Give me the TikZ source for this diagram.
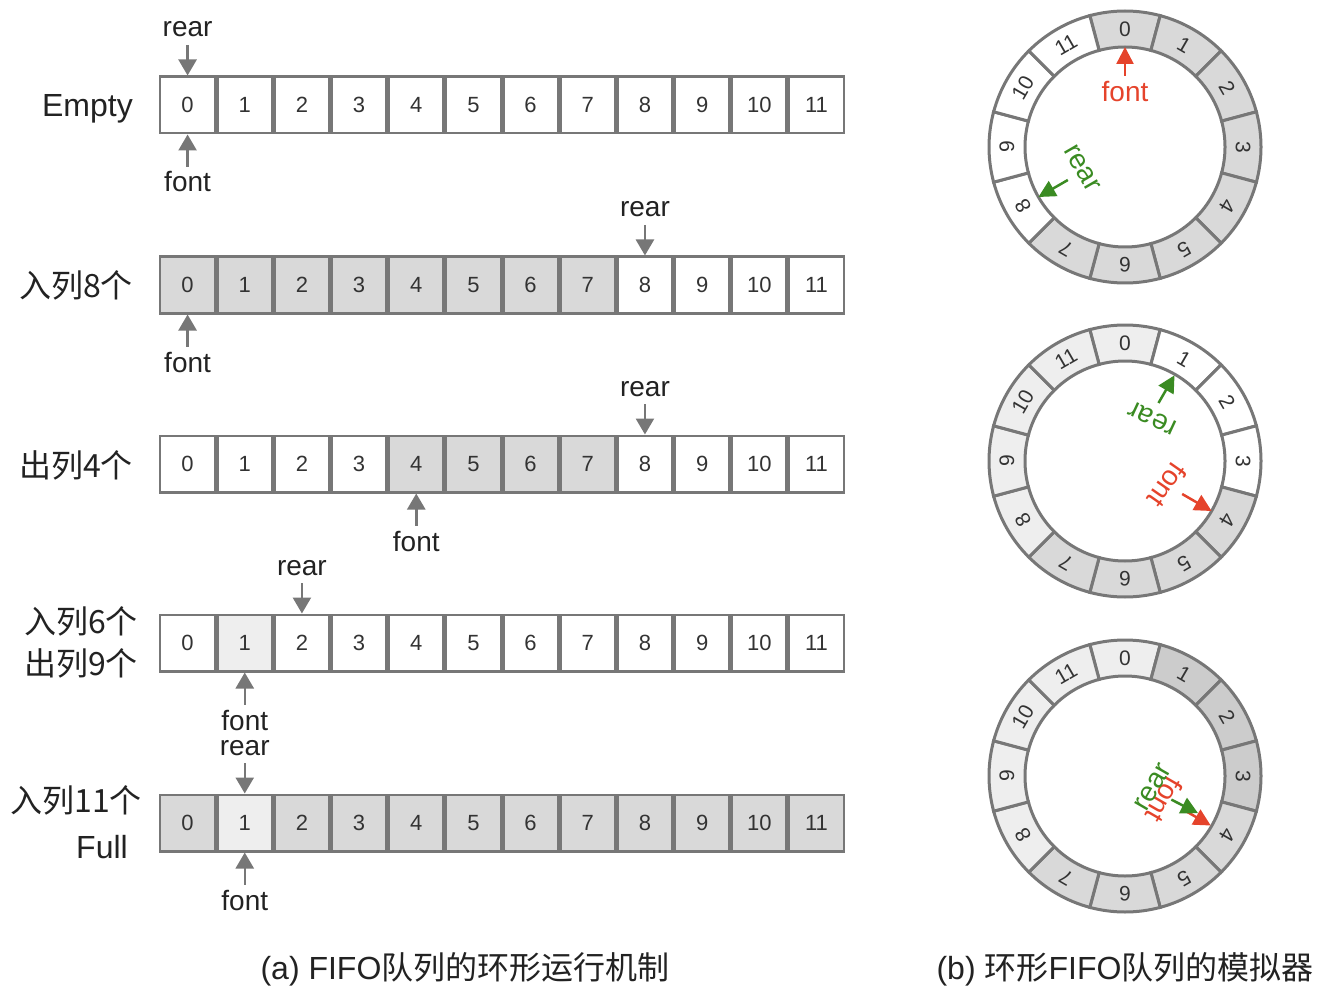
\documentclass[tikz,border=0pt]{standalone}
\usepackage{fontspec}
\setmainfont{Liberation Sans}
\newfontfamily\cjk{Noto Sans CJK SC}
\usetikzlibrary{arrows.meta,calc}
\definecolor{bd}{HTML}{777777}
\definecolor{g1}{HTML}{D9D9D9}
\definecolor{g2}{HTML}{EEEEEE}
\definecolor{g3}{HTML}{CCCCCC}
\definecolor{redc}{HTML}{E5432B}
\definecolor{greenc}{HTML}{3A8B22}
\definecolor{txt}{HTML}{333333}
\definecolor{lab}{HTML}{222222}
\tikzset{
  qcell/.style={draw=bd, line width=2.5pt, minimum width=54.67pt, minimum height=56.5pt,
    inner sep=0pt, text=txt, font=\fontsize{22}{26}\selectfont},
  rowlab/.style={inner sep=0pt, text=lab, font=\fontsize{32}{38}\selectfont},
  plab/.style={inner sep=0pt, text=lab, font=\fontsize{28}{32}\selectfont},
  ptr/.style={draw=bd, line width=2.5pt, -{Triangle[length=16pt,width=18pt]}},
  rnum/.style={inner sep=0pt, text=txt, font=\fontsize{21}{24}\selectfont},
  clab/.style={inner sep=0pt, font=\fontsize{28}{32}\selectfont},
  cptr/.style={line width=2.5pt, -{Triangle[length=17pt,width=17pt]}},
  seg/.style={draw=bd, line width=3pt},
  captext/.style={inner sep=0pt, text=lab, font=\fontsize{32}{38}\selectfont},
}
\newcommand\qrow[3]{%
  \foreach \fc [count=\i from 0] in {#3}{
    \node[qcell, fill=\fc] (#1c\i) at ({187.58+57.17*\i}, #2) {\i};
  }}
\newcommand\qptr[3]{%
  \node[plab, anchor=base] (#1R) at ($(#1c#2)+(0,-68)$) {rear};
  \draw[ptr] ([yshift=-8pt]#1R.base) -- (#1c#2.north);
  \node[plab, anchor=base] (#1F) at ($(#1c#3)+(0,87)$) {font};
  \draw[ptr] ([yshift=5pt]#1F.north) -- (#1c#3.south);
}
\newcommand\qring[2]{%
  \foreach \fc [count=\i from 0] in {#2}{
    \pgfmathsetmacro\aa{90-30*\i+15}
    \pgfmathsetmacro\ab{90-30*\i-15}
    \pgfmathsetmacro\am{90-30*\i}
    \pgfmathsetmacro\rt{-30*\i}
    \filldraw[seg, fill=\fc] (\aa:136) arc[start angle=\aa, end angle=\ab, radius=136]
      -- (\ab:100) arc[start angle=\ab, end angle=\aa, radius=100] -- cycle;
    \node[rnum, rotate=\rt] (#1n\i) at (\am:118) {\i};
  }}
\begin{document}
\begin{tikzpicture}[x=1pt, y=-1pt]
\useasboundingbox (0,0) rectangle (1327,1000);

% ---------- (a) linear rows ----------
\qrow{ra}{105}{white,white,white,white,white,white,white,white,white,white,white,white}
\qrow{rb}{285}{g1,g1,g1,g1,g1,g1,g1,g1,white,white,white,white}
\qrow{rc}{464}{white,white,white,white,g1,g1,g1,g1,white,white,white,white}
\qrow{rd}{643}{white,g2,white,white,white,white,white,white,white,white,white,white}
\qrow{re}{823}{g1,g2,g1,g1,g1,g1,g1,g1,g1,g1,g1,g1}

\node[rowlab, anchor=base east] (la) at (133,117) {Empty};
\node[rowlab, anchor=base east] (lb) at (133,298) {\cjk 入列8个};
\node[rowlab, anchor=base east] (lc) at (133,477) {\cjk 出列4个};
\node[rowlab, anchor=base east] (ld1) at (138,633) {\cjk 入列6个};
\node[rowlab, anchor=base east] (ld2) at (138,675) {\cjk 出列9个};
\node[rowlab, anchor=base east] (le1) at (142,812) {\cjk 入列11个};
\node[rowlab, anchor=base east] (le2) at (128,858) {Full};

\qptr{ra}{0}{0}
\qptr{rb}{8}{0}
\qptr{rc}{8}{4}
\qptr{rd}{2}{1}
\qptr{re}{1}{1}

% ---------- (b) rings ----------
\begin{scope}[shift={(1125,147)}, y=1pt]
  \qring{ka}{g1,g1,g1,g1,g1,g1,g1,g1,white,white,white,white}
  \coordinate (kaFs) at (90:71); \coordinate (kaFt) at (90:100);
  \node[clab, text=redc] (kaF) at (90:55) {font};
  \draw[cptr, draw=redc, fill=redc] (kaFs) -- (kaFt);
  \coordinate (kaRs) at (210:66); \coordinate (kaRt) at (210:100);
  \node[clab, text=greenc, rotate=-60] (kaR) at (206:48) {rear};
  \draw[cptr, draw=greenc, fill=greenc] (kaRs) -- (kaRt);
\end{scope}

\begin{scope}[shift={(1125,461)}, y=1pt]
  \qring{kb}{g2,white,white,white,g1,g1,g1,g1,g2,g2,g2,g2}
  \coordinate (kbRs) at (60:67); \coordinate (kbRt) at (60:99);
  \node[clab, text=greenc, rotate=155] (kbR) at (57:51) {rear};
  \draw[cptr, draw=greenc, fill=greenc] (kbRs) -- (kbRt);
  \coordinate (kbFs) at (-30:66); \coordinate (kbFt) at (-30:100);
  \node[clab, text=redc, rotate=-125] (kbF) at (-30:49) {font};
  \draw[cptr, draw=redc, fill=redc] (kbFs) -- (kbFt);
\end{scope}

\begin{scope}[shift={(1125,776)}, y=1pt]
  \qring{kc}{g2,g3,g3,g3,g1,g1,g1,g1,g2,g2,g2,g2}
  \coordinate (kcFs) at (-30:68); \coordinate (kcFt) at (-30:99);
  \node[clab, text=redc, rotate=-120] (kcF) at (-31:46) {font};
  \draw[cptr, draw=redc, fill=redc] (kcFs) -- (kcFt);
  \coordinate (kcRs) at (-27:52); \coordinate (kcRt) at (-27:82);
  \node[clab, text=greenc, rotate=60] (kcR) at (-22:30) {rear};
  \draw[cptr, draw=greenc, fill=greenc] (kcRs) -- (kcRt);
\end{scope}

% ---------- captions ----------
\node[captext, anchor=base] (capa) at (465,979) {(a) FIFO{\cjk 队列的环形运行机制}};
\node[captext, anchor=base] (capb) at (1125,979) {(b) {\cjk 环形}FIFO{\cjk 队列的模拟器}};
\end{tikzpicture}
\end{document}
